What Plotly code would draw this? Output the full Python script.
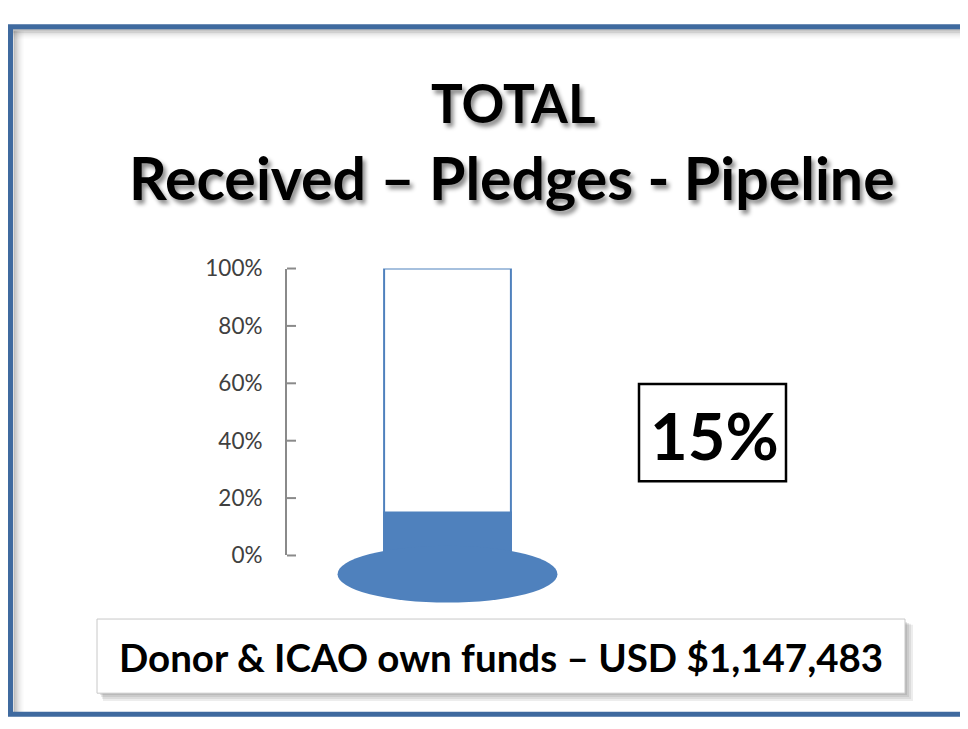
import plotly.graph_objects as go

# ---- data ----
categories = ["Total"]
target_pct = [100]
received_pct = [15]
tick_values = [0, 20, 40, 60, 80, 100]
tick_labels = ["0%", "20%", "40%", "60%", "80%", "100%"]
title_line1 = "TOTAL"
title_line2 = "Received – Pledges - Pipeline"
footer_text = "Donor & ICAO own funds – USD $1,147,483"

W, H = 968, 729
OFF = 8  # default page margin of the html body
BLUE = "#4F81BD"
FRAME = "#3F6A9F"
FONT = "Lato"

def px(x):
    return min(max((x - OFF) / W, 0.0), 1.0)

def py(y):
    return min(max(1 - (y - OFF) / H, 0.0), 1.0)

X_RANGE = [-1.0, 1.0]
Y_RANGE = [0, 100]
BAR_WIDTH = 0.79
BULB_HALF = 0.685
BULB_TOP, BULB_BOTTOM = 3.4, -16.4
AX_LEFT, AX_RIGHT = 287, 608

def xdom(v):
    return (v - X_RANGE[0]) / (X_RANGE[1] - X_RANGE[0])

def ydom(v):
    return (v - Y_RANGE[0]) / (Y_RANGE[1] - Y_RANGE[0])

fig = go.Figure()
fig.add_trace(go.Bar(x=[0], y=target_pct, base=0, width=BAR_WIDTH,
                     marker=dict(color="white", line=dict(color=BLUE, width=2)),
                     cliponaxis=False, hoverinfo="skip", name=categories[0]))
fig.add_trace(go.Bar(x=[0], y=received_pct, base=0, width=BAR_WIDTH,
                     marker=dict(color=BLUE, line=dict(color=BLUE, width=2)),
                     cliponaxis=False, hoverinfo="skip", name=categories[0]))

shapes = []
# thermometer bulb
shapes.append(dict(type="circle", xref="x domain", yref="y domain",
                   x0=xdom(-BULB_HALF), x1=xdom(BULB_HALF),
                   y0=ydom(BULB_BOTTOM), y1=ydom(BULB_TOP),
                   fillcolor=BLUE, line=dict(width=0), layer="above"))

# frame inner shadow
for i, op in enumerate([0.40, 0.28, 0.17, 0.09, 0.04]):
    c = f"rgba(90,90,90,{op})"
    shapes.append(dict(type="line", xref="paper", yref="paper",
                       x0=px(13), x1=px(976), y0=py(16 + 2 * i), y1=py(16 + 2 * i),
                       line=dict(color=c, width=2)))
    shapes.append(dict(type="line", xref="paper", yref="paper",
                       x0=px(14.5 + 2 * i), x1=px(14.5 + 2 * i), y0=py(17), y1=py(725),
                       line=dict(color=c, width=2)))
# frame blue border
shapes.append(dict(type="rect", xref="paper", yref="paper",
                   x0=px(10.5), x1=1.0, y0=py(13), y1=py(727),
                   line=dict(color=FRAME, width=5), fillcolor="rgba(0,0,0,0)"))

# footer box shadow + box
for i, op in enumerate([0.10, 0.10, 0.12, 0.14]):
    d = 8 - 2 * i
    shapes.append(dict(type="rect", xref="paper", yref="paper",
                       x0=px(99 + d * 0.5), x1=px(905 + d), y0=py(630 + d * 0.5), y1=py(705 + d),
                       line=dict(width=0), fillcolor=f"rgba(80,80,80,{op})"))
shapes.append(dict(type="rect", xref="paper", yref="paper",
                   x0=px(97), x1=px(905), y0=py(628), y1=py(705),
                   line=dict(color="#C8C8C8", width=1), fillcolor="white"))

# 15% box
shapes.append(dict(type="rect", xref="paper", yref="paper",
                   x0=px(639), x1=px(786), y0=py(384), y1=py(485),
                   line=dict(color="black", width=2.5), fillcolor="white"))

# y-axis tick marks (pointing right of the axis line)
for v in tick_values:
    shapes.append(dict(type="line", xref="x domain", yref="y domain",
                       x0=0, x1=9 / (AX_RIGHT - AX_LEFT), y0=ydom(v), y1=ydom(v),
                       line=dict(color="#8A8A8A", width=2)))

shadow = "3px 4px 4px rgba(0,0,0,0.45)"
annotations = [
    dict(text=f"<b>{title_line1}</b>", xref="paper", yref="paper", x=px(513), y=py(92),
         showarrow=False, xanchor="center", yanchor="middle",
         font=dict(family=FONT, size=53, color="black", shadow=shadow)),
    dict(text=f"<b>{title_line2}</b>", xref="paper", yref="paper", x=px(512), y=py(169),
         showarrow=False, xanchor="center", yanchor="middle",
         font=dict(family=FONT, size=59, color="black", shadow=shadow)),
    dict(text=f"<b>{received_pct[0]}%</b>", xref="paper", yref="paper", x=px(714), y=py(437),
         showarrow=False, xanchor="center", yanchor="middle",
         font=dict(family=FONT, size=65, color="black")),
    dict(text=f"<b>{footer_text}</b>", xref="paper", yref="paper", x=px(501), y=py(667),
         showarrow=False, xanchor="center", yanchor="middle",
         font=dict(family=FONT, size=38.5, color="black")),
]

fig.update_layout(
    width=W, height=H,
    margin=dict(l=0, r=0, t=0, b=0),
    paper_bgcolor="white", plot_bgcolor="rgba(0,0,0,0)",
    showlegend=False, barmode="overlay",
    shapes=shapes, annotations=annotations,
    xaxis=dict(domain=[px(AX_LEFT), px(AX_RIGHT)], range=X_RANGE, visible=False, fixedrange=True),
    yaxis=dict(domain=[py(562), py(264)], range=Y_RANGE,
               tickvals=tick_values, ticktext=tick_labels,
               ticks="", showline=True, linecolor="#8A8A8A", linewidth=2,
               showgrid=False, zeroline=False, ticklabelstandoff=18,
               tickfont=dict(family=FONT, size=22.5, color="#404040"),
               fixedrange=True),
)

fig.write_html("out.html", config={"displayModeBar": False})
